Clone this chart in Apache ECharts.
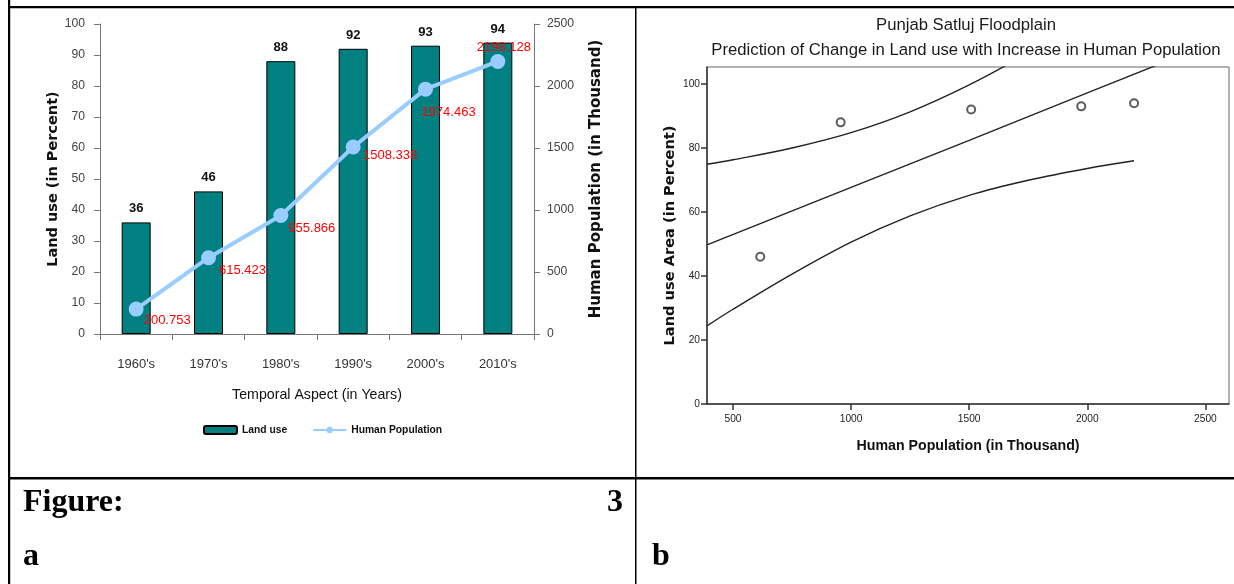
<!DOCTYPE html>
<html>
<head>
<meta charset="utf-8">
<script src="https://cdn.jsdelivr.net/npm/echarts@6/dist/echarts.min.js"></script>
<style>
html,body{margin:0;padding:0;background:#fff;}
#c{width:1234px;height:584px;}
</style>
</head>
<body>
<div id="c"></div>
<script>
// ---------- Data: Figure 3a ----------
const decades = ["1960's", "1970's", "1980's", "1990's", "2000's", "2010's"];
const landUse = [36, 46, 88, 92, 93, 94];
const population = [200.753, 615.423, 955.866, 1508.338, 1974.463, 2198.128];

// ---------- Data: Figure 3b ----------
const scatterPop = [200.753, 615.423, 955.866, 1508.338, 1974.463, 2198.128];
const scatterLand = [36, 46, 88, 92, 93, 94];
const fitX = [390, 1000, 1500, 2000, 2600];
const fitY = [49.7, 67.7, 82.4, 97.2, 114.9];
const ciX = [390, 500, 750, 1000, 1250, 1500, 1750, 2000, 2198.128];
const ciUpper = [74.9, 76.3, 80.0, 84.8, 91.3, 99.7, 109.7, 120.8, 130.1];
const ciLower = [24.4, 29.6, 40.6, 50.6, 58.8, 65.2, 69.9, 73.6, 76.0];

// ---------- Text ----------
const titleLines = ['Punjab Satluj Floodplain', 'Prediction of Change in Land use with Increase in Human Population'];

// pick a narrow face if one is installed, otherwise regular sans at a reduced size
function hasFont(name) {
  const ctx = document.createElement('canvas').getContext('2d');
  const s = 'abcdefghijklmnopqrstuvwxyz0123456789ABCDEFGH';
  ctx.font = '40px monospace';
  const a = ctx.measureText(s).width;
  ctx.font = "40px '" + name + "', monospace";
  const b = ctx.measureText(s).width;
  return Math.abs(a - b) > 0.5;
}
const narrowName = ['Liberation Sans Narrow', 'Arial Narrow'].find(hasFont);
const NARROW = narrowName ? "'" + narrowName + "', sans-serif" : "'Liberation Sans', Arial, sans-serif";
const NK = narrowName ? 1.17 : 1.0;   // size factor
const SANS = "'Liberation Sans', Arial, sans-serif";
const WIDEB = "'DejaVu Sans', Verdana, sans-serif";
const SERIF = "'Liberation Serif', 'Times New Roman', serif";
const plain = v => String(v);

// label offsets for population values (style only)
const popLabelOffsets = [[31, 11], [34, 13], [31, 13], [37, 8], [23, 23], [6, -14]];

const chart = echarts.init(document.getElementById('c'), null, {renderer: 'canvas'});

const pair = (xs, ys) => xs.map((x, i) => [x, ys[i]]);

const option = {
  backgroundColor: '#fff',
  animation: false,
  title: [{
    text: titleLines.join('\n'),
    left: 961, top: 8, textAlign: 'center',
    textStyle: {fontFamily: SANS, fontSize: 16.7, fontWeight: 'normal', color: '#1a1a1a', lineHeight: 25}
  }],
  legend: {
    left: 203, top: 425, padding: 0,
    itemWidth: 33, itemHeight: 8, itemGap: 25,
    textStyle: {fontFamily: NARROW, fontSize: 10.3 * NK, fontWeight: 'bold', color: '#111'},
    data: ['Land use', 'Human Population']
  },
  grid: [
    {left: 100, right: 700, top: 24, bottom: 250, containLabel: false},
    {left: 707, right: 5, top: 67, bottom: 180, show: true, borderColor: '#666', borderWidth: 1, backgroundColor: 'transparent', containLabel: false}
  ],
  xAxis: [
    {
      gridIndex: 0, type: 'category', data: decades, boundaryGap: true,
      axisLine: {lineStyle: {color: '#777', width: 1}},
      axisTick: {show: true, alignWithLabel: false, length: 6, lineStyle: {color: '#777'}},
      axisLabel: {fontFamily: NARROW, fontSize: 13 * NK, color: '#333', margin: 24},
      name: 'Temporal Aspect (in Years)', nameLocation: 'middle', nameGap: 54,
      nameTextStyle: {fontFamily: NARROW, fontSize: 14.2 * NK, color: '#111'}
    },
    {
      gridIndex: 1, type: 'value', min: 390, max: 2600, splitNumber: 5,
      splitLine: {show: false},
      axisLine: {show: true, onZero: false, lineStyle: {color: '#333', width: 1.5}},
      axisTick: {show: true, length: 6, lineStyle: {color: '#333', width: 1.5}},
      axisLabel: {fontFamily: NARROW, fontSize: 10.2 * NK, color: '#222', margin: 10, showMinLabel: false, showMaxLabel: false, formatter: plain},
      name: 'Human Population (in Thousand)', nameLocation: 'middle', nameGap: 35,
      nameTextStyle: {fontFamily: NARROW, fontSize: 14.2 * NK, fontWeight: 'bold', color: '#111'}
    }
  ],
  yAxis: [
    {
      gridIndex: 0, type: 'value', min: 0, max: 100, interval: 10, position: 'left',
      splitLine: {show: false},
      axisLine: {show: true, lineStyle: {color: '#777', width: 1}},
      axisTick: {show: true, length: 6, lineStyle: {color: '#777'}},
      axisLabel: {fontFamily: NARROW, fontSize: 12.2 * NK, color: '#444', margin: 15, formatter: plain},
      name: 'Land use (in Percent)', nameLocation: 'middle', nameGap: 32,
      nameTextStyle: {fontFamily: WIDEB, fontSize: 14.5, fontWeight: 'bold', color: '#111'}
    },
    {
      gridIndex: 0, type: 'value', min: 0, max: 2500, interval: 500, position: 'right',
      splitLine: {show: false},
      axisLine: {show: true, lineStyle: {color: '#777', width: 1}},
      axisTick: {show: true, length: 6, lineStyle: {color: '#777'}},
      axisLabel: {fontFamily: NARROW, fontSize: 12.2 * NK, color: '#444', margin: 13, formatter: plain},
      name: 'Human Population (in Thousand)', nameLocation: 'middle', nameGap: 55,
      nameTextStyle: {fontFamily: WIDEB, fontSize: 15, fontWeight: 'bold', color: '#111'}
    },
    {
      gridIndex: 1, type: 'value', min: 0, max: 105.3, interval: 20,
      splitLine: {show: false},
      axisLine: {show: true, onZero: false, lineStyle: {color: '#333', width: 1.5}},
      axisTick: {show: true, length: 6, lineStyle: {color: '#333', width: 1.5}},
      axisLabel: {fontFamily: NARROW, fontSize: 10.2 * NK, color: '#222', margin: 7, showMaxLabel: false, formatter: plain},
      name: 'Land use Area (in Percent)', nameLocation: 'middle', nameGap: 29,
      nameTextStyle: {fontFamily: WIDEB, fontSize: 14.6, fontWeight: 'bold', color: '#111'}
    }
  ],
  series: [
    {
      name: 'Land use', type: 'bar', xAxisIndex: 0, yAxisIndex: 0,
      data: landUse, barWidth: 29, z: 2,
      itemStyle: {color: '#008080', borderColor: '#000', borderWidth: 1},
      label: {show: true, position: 'top', distance: 7, fontFamily: NARROW, fontSize: 13 * NK, fontWeight: 'bold', color: '#111'}
    },
    {
      name: 'Human Population', type: 'line', xAxisIndex: 0, yAxisIndex: 1, z: 5,
      data: population.map((v, i) => ({
        value: v,
        label: {offset: popLabelOffsets[i]}
      })),
      symbol: 'circle', symbolSize: 15,
      lineStyle: {color: '#99CCFF', width: 4},
      itemStyle: {color: '#99CCFF'},
      label: {show: true, position: 'inside', fontFamily: NARROW, fontSize: 13 * NK, color: '#FF0000'}
    },
    {
      name: 'Observed', type: 'scatter', xAxisIndex: 1, yAxisIndex: 2,
      data: pair(scatterPop, scatterLand), clip: true,
      symbol: 'emptyCircle', symbolSize: 8,
      itemStyle: {color: '#333', borderColor: '#333', borderWidth: 1.1}
    },
    {
      name: 'Fit', type: 'line', xAxisIndex: 1, yAxisIndex: 2, clip: true,
      data: pair(fitX, fitY), showSymbol: false, symbol: 'none',
      lineStyle: {color: '#222', width: 1.4}
    },
    {
      name: 'Upper', type: 'line', xAxisIndex: 1, yAxisIndex: 2, clip: true,
      data: pair(ciX, ciUpper), showSymbol: false, symbol: 'none', smooth: 0.35,
      lineStyle: {color: '#222', width: 1.4}
    },
    {
      name: 'Lower', type: 'line', xAxisIndex: 1, yAxisIndex: 2, clip: true,
      data: pair(ciX, ciLower), showSymbol: false, symbol: 'none', smooth: 0.35,
      lineStyle: {color: '#222', width: 1.4}
    }
  ],
  graphic: [
    // table rules
    {type: 'rect', shape: {x: 8, y: 6, width: 1226, height: 2.2}, style: {fill: '#000'}, silent: true},
    {type: 'rect', shape: {x: 8, y: 0, width: 2.2, height: 584}, style: {fill: '#000'}, silent: true},
    {type: 'rect', shape: {x: 635, y: 6, width: 1.5, height: 578}, style: {fill: '#000'}, silent: true},
    {type: 'rect', shape: {x: 8, y: 477, width: 1226, height: 2.6}, style: {fill: '#000'}, silent: true},
    // table text
    {type: 'text', style: {text: 'Figure:', x: 23, y: 503, font: 'bold 32px ' + SERIF, fill: '#000', verticalAlign: 'middle'}},
    {type: 'text', style: {text: '3', x: 623, y: 503, font: 'bold 32px ' + SERIF, fill: '#000', align: 'right', verticalAlign: 'middle'}},
    {type: 'text', style: {text: 'a', x: 23, y: 557, font: 'bold 32px ' + SERIF, fill: '#000', verticalAlign: 'middle'}},
    {type: 'text', style: {text: 'b', x: 652, y: 557, font: 'bold 32px ' + SERIF, fill: '#000', verticalAlign: 'middle'}}
  ]
};

chart.setOption(option);
</script>
</body>
</html>
